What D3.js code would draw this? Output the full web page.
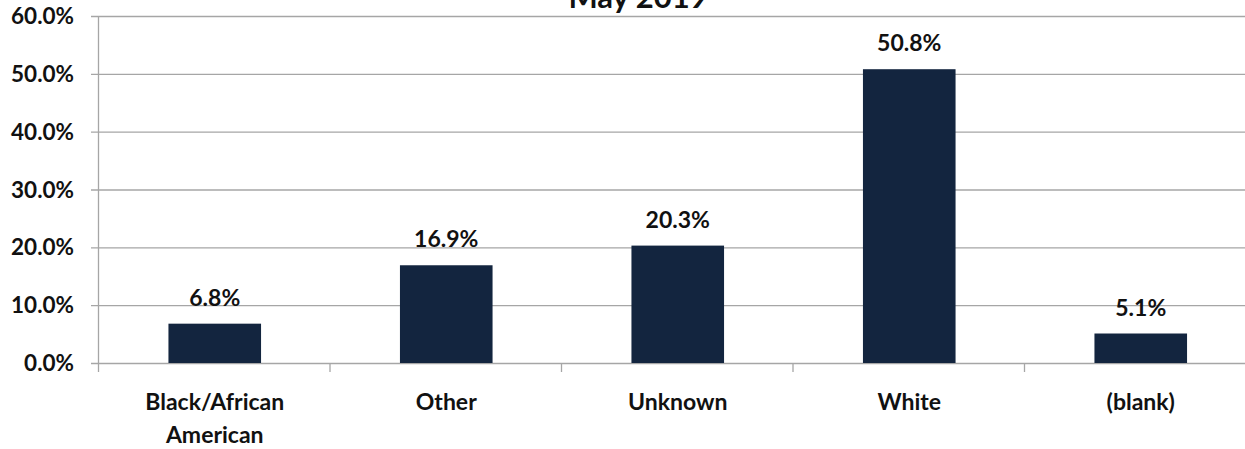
<!DOCTYPE html>
<html>
<head>
<meta charset="utf-8">
<script src="https://cdn.jsdelivr.net/npm/d3@7"></script>
<style>
  body { margin: 0; background: #fff; }
  text { font-family: Lato, "Open Sans", sans-serif; font-weight: bold; fill: #111; }
</style>
</head>
<body>
<div id="app"></div>
<script>
// data
const categories = ["Black/African American", "Other", "Unknown", "White", "(blank)"];
const labelLines = [["Black/African", "American"], ["Other"], ["Unknown"], ["White"], ["(blank)"]];
const values = [6.8, 16.9, 20.3, 50.8, 5.1];
const yTicks = [0, 10, 20, 30, 40, 50, 60];
const title = "May 2019";

// sizing
const width = 1245;
const height = 449;
const margin = {left: 99, top: 16, bottom: 86};
const plotBottom = height - margin.bottom;

const svg = d3.select("#app")
  .append("svg")
    .attr("width", width)
    .attr("height", height);

// x scale (bands run a bit past the right edge, as in the original)
const x = d3.scaleBand()
    .domain(categories)
    .range([margin.left, margin.left + 5 * 231.5])
    .padding(0);

const y = d3.scaleLinear()
    .domain([0, 60])
    .range([plotBottom, margin.top]);

// gridlines
svg.append("g")
  .selectAll("line")
  .data(yTicks)
  .enter().append("line")
    .attr("x1", margin.left - 8)
    .attr("x2", width)
    .attr("y1", d => y(d) + 0.5)
    .attr("y2", d => y(d) + 0.5)
    .attr("stroke", "#a6a6a6")
    .attr("stroke-width", 1.3);

// y tick labels
svg.append("g")
  .selectAll("text")
  .data(yTicks)
  .enter().append("text")
    .attr("x", 74)
    .attr("y", d => y(d) + 8)
    .attr("text-anchor", "end")
    .style("font-size", "22.5px")
    .text(d => d.toFixed(1) + "%");

// left axis line
svg.append("line")
  .attr("x1", margin.left - 0.5).attr("x2", margin.left - 0.5)
  .attr("y1", margin.top).attr("y2", plotBottom)
  .attr("stroke", "#a6a6a6").attr("stroke-width", 1.3);

// x tick marks at band boundaries
const bounds = categories.map(c => x(c)).concat([x.range()[1]]);
svg.append("g")
  .selectAll("line")
  .data(bounds)
  .enter().append("line")
    .attr("x1", d => d - 0.5).attr("x2", d => d - 0.5)
    .attr("y1", plotBottom).attr("y2", plotBottom + 9)
    .attr("stroke", "#a6a6a6").attr("stroke-width", 1.3);

// bars
const barW = x.bandwidth() * 0.4;
svg.append("g")
  .selectAll("rect")
  .data(values)
  .enter().append("rect")
    .attr("x", (d, i) => x(categories[i]) + (x.bandwidth() - barW) / 2)
    .attr("y", d => y(d))
    .attr("width", barW)
    .attr("height", d => plotBottom - y(d))
    .attr("fill", "#13253f");

// value labels
svg.append("g")
  .selectAll("text")
  .data(values)
  .enter().append("text")
    .attr("x", (d, i) => x(categories[i]) + x.bandwidth() / 2)
    .attr("y", d => y(d) - 18)
    .attr("text-anchor", "middle")
    .style("font-size", "23px")
    .text(d => d.toFixed(1) + "%");

// category labels
const catG = svg.append("g")
  .selectAll("text")
  .data(labelLines)
  .enter().append("text")
    .attr("text-anchor", "middle")
    .style("font-size", "23px");
catG.selectAll("tspan")
  .data((d, i) => d.map(t => ({t, i})))
  .enter().append("tspan")
    .attr("x", d => x(categories[d.i]) + x.bandwidth() / 2)
    .attr("y", (d, j) => 410 + j * 33)
    .text(d => d.t);

// title (cut off at the top)
svg.append("text")
  .attr("x", 638)
  .attr("y", 8)
  .attr("text-anchor", "middle")
  .style("font-size", "31px")
  .text(title);
</script>
</body>
</html>
